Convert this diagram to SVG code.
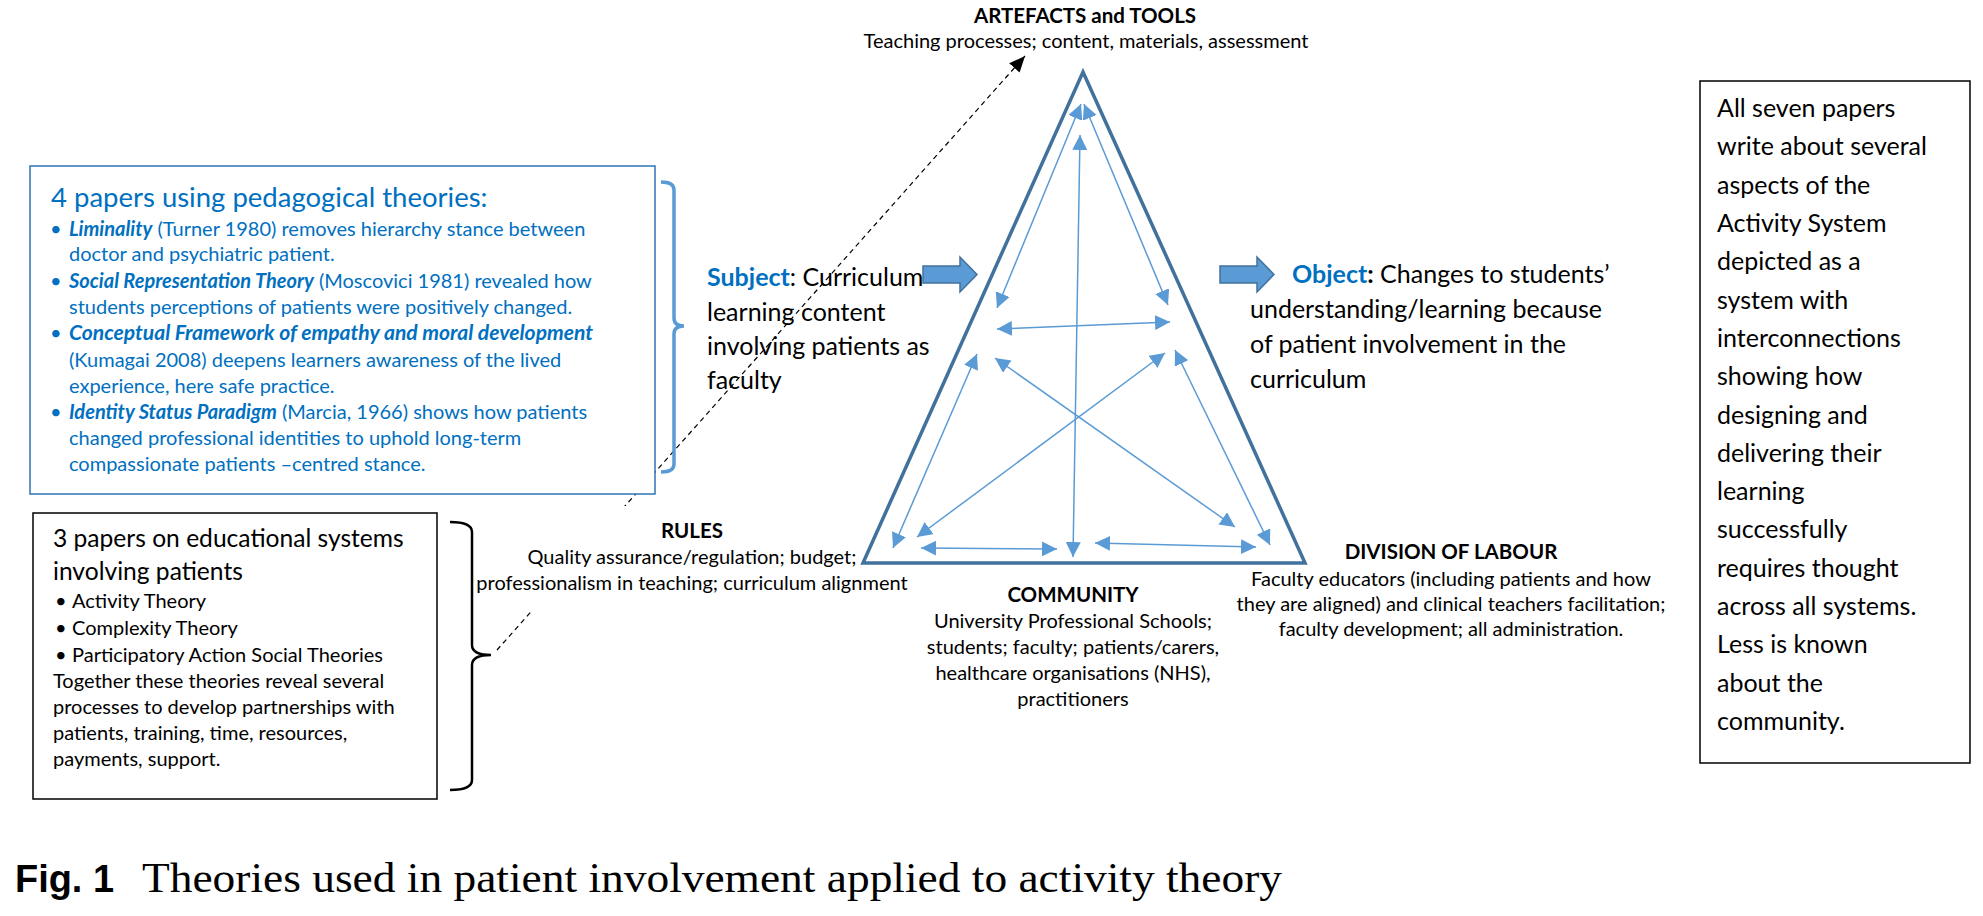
<svg xmlns="http://www.w3.org/2000/svg" width="1983" height="916" viewBox="0 0 1983 916">
<defs>
<style>
text{font-family:Lato,"Liberation Sans",sans-serif;fill:#000}
.lbl{font-size:20px}
.hd{font-size:20.5px;font-weight:700}
.mid{text-anchor:middle}
.blue{fill:#0070C0}
.bi{font-weight:700;font-style:italic}
.b{font-weight:700}
.sz25{font-size:25px}
.h2{font-size:24.6px}
.bt{font-size:20px;fill:#0070C0}
.rb{font-size:25px}
.conn line{stroke:#5B9BD5;stroke-width:1.5;marker-start:url(#ah);marker-end:url(#ah)}
.blk{fill:#5B9BD5;stroke:#41719C;stroke-width:1.5}
</style>
<marker id="ah" markerUnits="userSpaceOnUse" markerWidth="16" markerHeight="15" refX="15" refY="7.5" orient="auto-start-reverse" viewBox="0 0 16 15"><path d="M0,0 L15,7.5 L0,15 z" fill="#5B9BD5"/></marker>
<marker id="bh" markerUnits="userSpaceOnUse" markerWidth="17" markerHeight="14" refX="16" refY="7" orient="auto" viewBox="0 0 17 14"><path d="M0,0 L16,7 L0,14 z" fill="#000"/></marker>
</defs>
<rect width="1983" height="916" fill="#fff"/>

<g id="dashed-link">
<line x1="497" y1="650" x2="1025" y2="56" stroke="#000" stroke-width="1.2" stroke-dasharray="5,4" marker-end="url(#bh)"/>
</g>

<g id="rules">
<rect x="470" y="506" width="442" height="104" fill="#fff"/>
<text class="hd mid" x="692" y="538">RULES</text>
<text class="lbl mid" x="692" y="564">Quality assurance/regulation; budget;</text>
<text class="lbl mid" x="692" y="590">professionalism in teaching; curriculum alignment</text>
</g>

<g id="triangle">
<polygon points="1083,72 1305,563 863,563" fill="none" stroke="#41719C" stroke-width="3.5"/>
</g>

<g id="connectors" class="conn">
<line x1="1081" y1="104" x2="997" y2="308"/>
<line x1="1084" y1="104" x2="1168" y2="305"/>
<line x1="1080" y1="135" x2="1073" y2="557"/>
<line x1="997" y1="329" x2="1170" y2="322"/>
<line x1="977" y1="354" x2="893" y2="548"/>
<line x1="995" y1="358" x2="1235" y2="527"/>
<line x1="1165" y1="353" x2="917" y2="537"/>
<line x1="1175" y1="350" x2="1270" y2="545"/>
<line x1="921" y1="548" x2="1057" y2="549"/>
<line x1="1095" y1="543" x2="1256" y2="547"/>
</g>

<g id="artefacts">
<text class="hd mid" x="1085" y="23">ARTEFACTS and TOOLS</text>
<text class="lbl mid" x="1086" y="48">Teaching processes; content, materials, assessment</text>
</g>

<g id="community">
<text class="hd mid" x="1073" y="602">COMMUNITY</text>
<text class="lbl mid" x="1073" y="628">University Professional Schools;</text>
<text class="lbl mid" x="1073" y="654">students; faculty; patients/carers,</text>
<text class="lbl mid" x="1073" y="680">healthcare organisations (NHS),</text>
<text class="lbl mid" x="1073" y="706">practitioners</text>
</g>

<g id="division">
<text class="hd mid" x="1451" y="559">DIVISION OF LABOUR</text>
<text class="lbl mid" x="1451" y="586">Faculty educators (including patients and how</text>
<text class="lbl mid" x="1451" y="611">they are aligned) and clinical teachers facilitation;</text>
<text class="lbl mid" x="1451" y="636">faculty development; all administration.</text>
</g>

<g id="subject">
<path class="blk" d="M923,266 H960 V257 L977,274.5 L960,292 V283 H923 Z"/>
<text class="sz25" x="707" y="286"><tspan class="b blue">Subject</tspan>: Curriculum</text>
<text class="sz25" x="707" y="321">learning content</text>
<text class="sz25" x="707" y="355">involving patients as</text>
<text class="sz25" x="707" y="389">faculty</text>
</g>

<g id="object">
<path class="blk" d="M1220,266 H1257 V257 L1274,274.5 L1257,292 V283 H1220 Z"/>
<text class="sz25" x="1292" y="283"><tspan class="b blue">Object</tspan><tspan class="b">:</tspan> Changes to students’</text>
<text class="sz25" x="1250" y="318">understanding/learning because</text>
<text class="sz25" x="1250" y="353">of patient involvement in the</text>
<text class="sz25" x="1250" y="388">curriculum</text>
</g>

<g id="box-pedagogical">
<rect x="30" y="166" width="625" height="328" fill="#fff" stroke="#2E75B6" stroke-width="1.5"/>
<text class="blue" style="font-size:27.5px" x="51" y="207">4 papers using pedagogical theories:</text>
<text class="bt" x="50" y="236">•</text>
<text class="bt" x="69" y="236"><tspan class="bi">Liminality</tspan> (Turner 1980) removes hierarchy stance between</text>
<text class="bt" x="69" y="261">doctor and psychiatric patient.</text>
<text class="bt" x="50" y="288">•</text>
<text class="bt" x="69" y="288"><tspan class="bi">Social Representation Theory</tspan> (Moscovici 1981) revealed how</text>
<text class="bt" x="69" y="314">students perceptions of patients were positively changed.</text>
<text class="bt" x="50" y="340">•</text>
<text class="bt bi" x="69" y="340" textLength="524" lengthAdjust="spacingAndGlyphs">Conceptual Framework of empathy and moral development</text>
<text class="bt" x="69" y="367">(Kumagai 2008) deepens learners awareness of the lived</text>
<text class="bt" x="69" y="393">experience, here safe practice.</text>
<text class="bt" x="50" y="419">•</text>
<text class="bt" x="69" y="419"><tspan class="bi">Identity Status Paradigm</tspan> (Marcia, 1966) shows how patients</text>
<text class="bt" x="69" y="445">changed professional identities to uphold long-term</text>
<text class="bt" x="69" y="471">compassionate patients –centred stance.</text>
<path d="M661,182 Q674,182 674,190 L674,318 Q674,326 684,326 Q674,326 674,334 L674,464 Q674,472 661,472" fill="none" stroke="#5B9BD5" stroke-width="3.5"/>
</g>

<g id="box-educational">
<rect x="33" y="513" width="404" height="286" fill="#fff" stroke="#000" stroke-width="1.5"/>
<text class="h2" x="53" y="547">3 papers on educational systems</text>
<text class="h2" x="53" y="580">involving patients</text>
<text class="lbl" x="55" y="608">•</text>
<text class="lbl" x="72" y="608">Activity Theory</text>
<text class="lbl" x="55" y="635">•</text>
<text class="lbl" x="72" y="635">Complexity Theory</text>
<text class="lbl" x="55" y="662">•</text>
<text class="lbl" x="72" y="662">Participatory Action Social Theories</text>
<text class="lbl" x="53" y="688">Together these theories reveal several</text>
<text class="lbl" x="53" y="714">processes to develop partnerships with</text>
<text class="lbl" x="53" y="740">patients, training, time, resources,</text>
<text class="lbl" x="53" y="766">payments, support.</text>
<path d="M450,522 Q472,522 472,532 L472,645 Q472,655 491,655 Q472,655 472,665 L472,780 Q472,790 450,790" fill="none" stroke="#000" stroke-width="2.5"/>
</g>

<g id="box-summary">
<rect x="1700" y="81" width="270" height="682" fill="#fff" stroke="#000" stroke-width="1.5"/>
<text class="rb" x="1717" y="117">All seven papers</text>
<text class="rb" x="1717" y="155">write about several</text>
<text class="rb" x="1717" y="194">aspects of the</text>
<text class="rb" x="1717" y="232">Activity System</text>
<text class="rb" x="1717" y="270">depicted as a</text>
<text class="rb" x="1717" y="309">system with</text>
<text class="rb" x="1717" y="347">interconnections</text>
<text class="rb" x="1717" y="385">showing how</text>
<text class="rb" x="1717" y="424">designing and</text>
<text class="rb" x="1717" y="462">delivering their</text>
<text class="rb" x="1717" y="500">learning</text>
<text class="rb" x="1717" y="538">successfully</text>
<text class="rb" x="1717" y="577">requires thought</text>
<text class="rb" x="1717" y="615">across all systems.</text>
<text class="rb" x="1717" y="653">Less is known</text>
<text class="rb" x="1717" y="692">about the</text>
<text class="rb" x="1717" y="730">community.</text>
</g>

<g id="caption">
<text x="15" y="892" style="font-family:'Liberation Sans',Arial,sans-serif;font-weight:700;font-size:38px" textLength="99" lengthAdjust="spacingAndGlyphs">Fig. 1</text>
<text x="142" y="892" style="font-family:'Liberation Serif','Times New Roman',serif;font-size:42px" textLength="1140" lengthAdjust="spacingAndGlyphs">Theories used in patient involvement applied to activity theory</text>
</g>
</svg>
